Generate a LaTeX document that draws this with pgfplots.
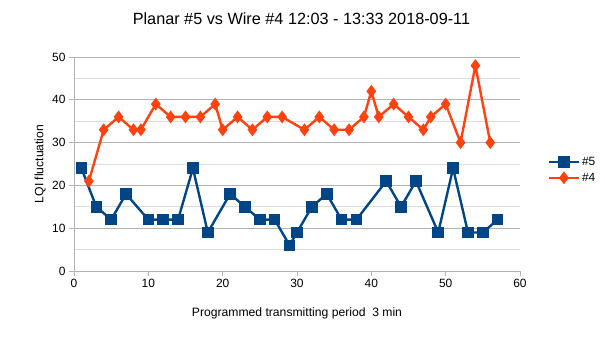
\documentclass[border=0pt]{standalone}
\usepackage{pgfplots}
\pgfplotsset{compat=1.18}
\usepackage{fontspec}
\setmainfont{Liberation Sans}
\definecolor{cblue}{HTML}{004586}
\definecolor{corange}{HTML}{FF420E}
\definecolor{gmaj}{HTML}{B3B3B3}
\definecolor{gmin}{HTML}{DDDDDD}
\begin{document}
\begin{tikzpicture}
\useasboundingbox (-74bp,-69bp) rectangle (531bp,271bp);
\begin{axis}[
  scale only axis,
  width=446bp, height=214bp,
  xmin=0, xmax=60, ymin=0, ymax=50,
  xtick={0,10,...,60}, ytick={0,10,...,50},
  minor ytick={5,15,...,45},
  ymajorgrids, yminorgrids,
  major grid style={gmaj, line width=0.8pt},
  minor grid style={gmin, line width=0.8pt},
  axis x line*=bottom, axis y line*=left,
  axis line style={gmaj, line width=0.8pt, -},
  tick style={gmaj, line width=0.8pt},
  tick align=outside, major tick length=5bp, minor tick length=0pt,
  xtick pos=bottom, ytick pos=left,
  every tick label/.append style={font=\fontsize{12}{14}\selectfont, black},
  /pgf/number format/assume math mode=true,
  title={Planar \#5 vs Wire \#4 12:03 - 13:33 2018-09-11},
  title style={font=\fontsize{16.3}{19}\selectfont, at={(rel axis cs:0.51,1.15)}, anchor=center},
  xlabel={Programmed transmitting period \ 3 min},
  xlabel style={font=\fontsize{12.2}{14}\selectfont, at={(rel axis cs:0.5,-0.196)}, anchor=center},
  ylabel={LQI fluctuation},
  ylabel style={font=\fontsize{12.2}{14}\selectfont, at={(rel axis cs:-0.076,0.5)}, anchor=center, rotate=0},
  legend style={at={(rel axis cs:1.055,0.472)}, anchor=west, draw=none, fill=none,
    font=\fontsize{12}{14}\selectfont, row sep=2bp},
  legend cell align=left,
  legend image code/.code={
    \draw[#1, mark repeat=2, mark phase=2] plot coordinates {(0bp,0bp) (15bp,0bp) (30bp,0bp)};
  },
]
\addplot[cblue, line width=2.4pt, mark=square*, mark size=4.6bp, mark options={solid}] coordinates {
(1,24)(3,15)(5,12)(7,18)(10,12)(12,12)(14,12)(16,24)(18,9)(21,18)(23,15)(25,12)(27,12)(29,6)(30,9)(32,15)(34,18)(36,12)(38,12)(42,21)(44,15)(46,21)(49,9)(51,24)(53,9)(55,9)(57,12)
};
\addlegendentry{\#5}
\addplot[corange, line width=2.4pt, mark=diamond*, mark size=4.5bp, mark options={solid}] coordinates {
(2,21)(4,33)(6,36)(8,33)(9,33)(11,39)(13,36)(15,36)(17,36)(19,39)(20,33)(22,36)(24,33)(26,36)(28,36)(31,33)(33,36)(35,33)(37,33)(39,36)(40,42)(41,36)(43,39)(45,36)(47,33)(48,36)(50,39)(52,30)(54,48)(56,30)
};
\addlegendentry{\#4}
\end{axis}
\end{tikzpicture}
\end{document}
